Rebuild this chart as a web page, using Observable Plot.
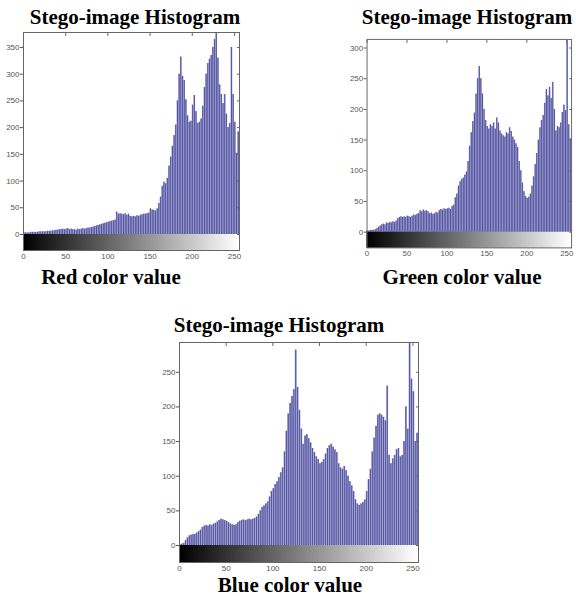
<!DOCTYPE html>
<html><head><meta charset="utf-8">
<script src="https://cdn.jsdelivr.net/npm/d3@7"></script>
<script src="https://cdn.jsdelivr.net/npm/@observablehq/plot@0.6"></script>
<style>
html,body{margin:0;padding:0;width:576px;height:596px;overflow:hidden;background:#fff;}
#root{position:relative;width:576px;height:596px;}
.t{position:absolute;font-family:"Liberation Serif","Times New Roman",serif;font-weight:bold;font-size:21px;line-height:21px;white-space:nowrap;transform:translateX(-50%);color:#000}
.p{position:absolute}
</style></head><body>
<div id="root"></div>
<script>
// Histogram counts, one value per bin of 2 intensity levels (bins 0-1, 2-3, ..., 254-255)
const binWidth = 2;
const redCounts = [
  3,3,3,3,4,4,4,4,4,5,5,5,5,5,6,6,6,7,7,8,
  8,9,9,10,9,10,11,9,10,9,
  9,8,10,9,10,11,10,11,12,12,
  13,14,15,16,17, 18,19,20,21,22, 23,24,25,26,27,
  42,38,39,38,37,39,36,38,
  34,33,34,33,35,34,36,
  37,38,38,39,40, 48,46,45,44,48,
  58,70,90,98,95,105,128,145,165,185,
  205,250,300,332,296,288,252,222,210,212,
  242,260,230,208,210,216,240,275,300,320,
  328,335,350,365,376,330,280,262,245,262,
  225,200,208,350,262,210,152,192
];
const greenCounts = [
  2,2,3,3,3,4, 6,8,10,12, 13,12,15,14,16, 15,17,16,18,22,
  24,25,24, 25,24,26,25,24,26, 28,27,29,30, 35,33,36,34,35,33,
  30,31,29,30,32,31, 35,37,36,38,37,38,39,37, 42,44,
  56,62,75,82,86,88,93,98,115,140,
  162,180,194,225,250,270,250,225,200,182,
  172,168,175,172,178,168,186,178,165,160,
  157,155,162,160,170,164,155,150,144,138,
  115,100,80,66,58,55,57,62,75,90,
  110,128,150,170,182,190,210,232,222,236,
  218,244,200,165,172,170,178,195,207,198,
  312,175,152
];
const blueCounts = [
  1,2,3, 7,11,14, 15,16,16,18, 20,22,26, 28,29,28,30,29,
  31,32,34,36,38, 37,36,35, 33,31,30,29, 30,33,35,
  36,37,36,37,38,37,38, 39,41,45, 50,55,57, 60,63, 70,78,
  82,88,92, 98,105,
  112,135,165,190,205,215,225,282,228,195,
  168,146,158,160,154,148,140,134,128,124,
  118,120,124,132,140,144,146,142,138,134,
  118,112,110,114,108,100,92,86,78,66,
  60,58,60,62,66,78,95,110,135,155,
  172,188,190,188,185,180,230,130,118,125,
  130,138,140,128,130,150,200,168,292,240,
  222,150,162
];
const redTicks = [0,50,100,150,200,250,300,350];
const greenTicks = [0,50,100,150,200,250,300];
const blueTicks = [0,50,100,150,200,250];
const xTicks = [0,50,100,150,200,250];
const titleText = "Stego-image Histogram";
const xLabelTexts = ["Red color value","Green color value","Blue color value"];
const grayLevels = d3.range(256);

const panels = [
  {counts: redCounts, yTicks: redTicks, ymax: 378, label: xLabelTexts[0],
   svg: {left: 0, top: 28, width: 250, height: 238, ml: 23, mr: 11, mt: 4, mb: 16, bar: 16},
   title: {x: 135, top: 7.4}, xl: {x: 111, top: 267.4}},
  {counts: greenCounts, yTicks: greenTicks, ymax: 314, label: xLabelTexts[1],
   svg: {left: 340, top: 35, width: 240, height: 232, ml: 27, mr: 5, mt: 4, mb: 16, bar: 16},
   title: {x: 467, top: 7.4}, xl: {x: 462, top: 267.4}},
  {counts: blueCounts, yTicks: blueTicks, ymax: 293, label: xLabelTexts[2],
   svg: {left: 150, top: 338, width: 280, height: 240, ml: 29, mr: 12, mt: 4, mb: 16, bar: 17},
   title: {x: 279, top: 315.4}, xl: {x: 290, top: 575.4}}
];

const root = document.getElementById("root");

for (const p of panels) {
  const s = p.svg;
  const innerH = s.height - s.mt - s.mb;
  const barU = s.bar * p.ymax / (innerH - s.bar);
  const bins = p.counts.map((c, i) => ({x0: i * binWidth, x1: (i + 1) * binWidth, count: c}));
  const chart = Plot.plot({
    width: s.width, height: s.height,
    marginLeft: s.ml, marginRight: s.mr, marginTop: s.mt, marginBottom: s.mb,
    x: {domain: [0, 256]},
    y: {domain: [-barU, p.ymax]},
    style: {fontFamily: "Liberation Sans, Arial, sans-serif", fontSize: "8px", color: "#555", background: "transparent"},
    marks: [
      Plot.rect(grayLevels, {x1: d => d, x2: d => d + 1, y1: -barU, y2: 0, fill: d => `rgb(${d},${d},${d})`, stroke: d => `rgb(${d},${d},${d})`, strokeWidth: 0.6, inset: 0, shapeRendering: "crispEdges"}),
      Plot.rect(bins, {x1: "x0", x2: "x1", y1: 0, y2: "count", fill: "#9494cd", inset: 0}),
      Plot.ruleX(bins, {x: d => d.x0 + 0.5, y1: 0, y2: "count", stroke: "#23237c", strokeWidth: 0.7, strokeOpacity: 0.8}),
      Plot.frame({stroke: "#666"}),
      Plot.axisY(p.yTicks, {anchor: "left", tickSize: 3, tickPadding: 1, label: null}),
      Plot.axisY(p.yTicks, {anchor: "right", tickSize: -3, tickFormat: () => "", label: null, stroke: "#666"}),
      Plot.axisX(xTicks, {anchor: "top", tickSize: -3, tickFormat: () => "", label: null, stroke: "#666"}),
      Plot.axisX(xTicks, {anchor: "bottom", tickSize: 0, tickPadding: 3, label: null})
    ]
  });
  const wrap = document.createElement("div");
  wrap.className = "p";
  wrap.style.left = s.left + "px";
  wrap.style.top = s.top + "px";
  wrap.appendChild(chart);
  root.appendChild(wrap);

  const t = document.createElement("div");
  t.className = "t";
  t.textContent = titleText;
  t.style.left = p.title.x + "px";
  t.style.top = p.title.top + "px";
  root.appendChild(t);

  const xl = document.createElement("div");
  xl.className = "t";
  xl.textContent = p.label;
  xl.style.left = p.xl.x + "px";
  xl.style.top = p.xl.top + "px";
  root.appendChild(xl);
}
</script>
</body></html>
